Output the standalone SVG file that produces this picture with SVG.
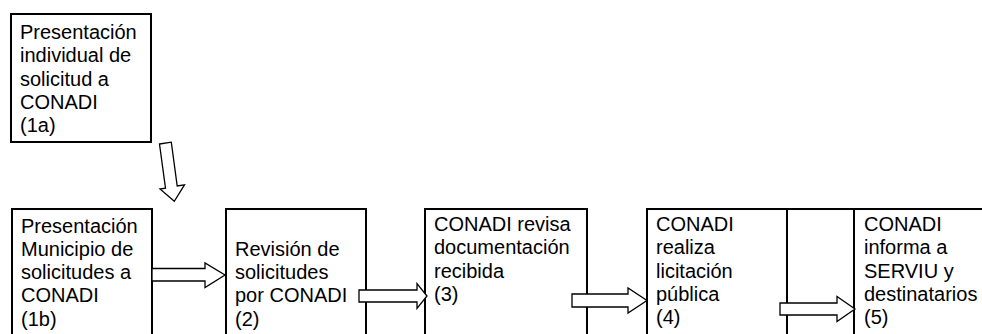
<svg xmlns="http://www.w3.org/2000/svg" width="982" height="334" viewBox="0 0 982 334">
<style>
.box{fill:#fff;stroke:#000;stroke-width:2}
.arr{fill:#fff;stroke:#000;stroke-width:1.3;stroke-linejoin:miter}
text{font-family:"Liberation Sans",Arial,sans-serif;font-size:20px;fill:#000}
</style>
<rect width="982" height="334" fill="#fff"/>
<g id="n1a">
<rect class="box" x="11" y="14" width="140" height="128"/>
<text x="20" y="39">Presentación</text>
<text x="20" y="62.3">individual de</text>
<text x="20" y="85.6">solicitud a</text>
<text x="20" y="108.9">CONADI</text>
<text x="20" y="132.2">(1a)</text>
</g>
<g id="n1b">
<rect class="box" x="12" y="209" width="140" height="140"/>
<text x="21" y="232.5">Presentación</text>
<text x="21" y="255.8">Municipio de</text>
<text x="21" y="279.1">solicitudes a</text>
<text x="21" y="302.4">CONADI</text>
<text x="21" y="325.7">(1b)</text>
</g>
<g id="n2">
<rect class="box" x="226" y="209" width="140" height="140"/>
<text x="235" y="255.8">Revisión de</text>
<text x="235" y="279.1">solicitudes</text>
<text x="235" y="302.4">por CONADI</text>
<text x="235" y="325.7">(2)</text>
</g>
<g id="n3">
<rect class="box" x="425" y="209" width="162" height="140"/>
<text x="434" y="231">CONADI revisa</text>
<text x="434" y="254.3">documentación</text>
<text x="434" y="277.6">recibida</text>
<text x="434" y="300.9">(3)</text>
</g>
<g id="n4">
<rect class="box" x="647" y="209" width="140" height="140"/>
<text x="656" y="231">CONADI</text>
<text x="656" y="254.3">realiza</text>
<text x="656" y="277.6">licitación</text>
<text x="656" y="300.9">pública</text>
<text x="656" y="324.2">(4)</text>
</g>
<g id="n5">
<line x1="786" y1="209" x2="855" y2="209" stroke="#000" stroke-width="2"/>
<rect class="box" x="854" y="209" width="150" height="140"/>
<text x="864" y="231">CONADI</text>
<text x="864" y="254.3">informa a</text>
<text x="864" y="277.6">SERVIU y</text>
<text x="864" y="300.9">destinatarios</text>
<text x="864" y="324.2">(5)</text>
</g>
<g id="connectors">
<polygon class="arr" points="159.5,144 171.3,142.2 177.2,186 184.5,184.8 174.3,201.3 160,189 165.5,188.1"/>
<polygon class="arr" points="152,268.5 205,268.5 205,263 225,275 205,287.5 205,281 152,281"/>
<polygon class="arr" points="359,290 417,290 417,283.5 427,296 417,308.5 417,302 359,302"/>
<polygon class="arr" points="572,294 628,294 628,288 647,300.5 628,313 628,307 572,307"/>
<polygon class="arr" points="780,303 837,303 837,296.5 855,309 837,321.5 837,315 780,315"/>
</g>
</svg>
